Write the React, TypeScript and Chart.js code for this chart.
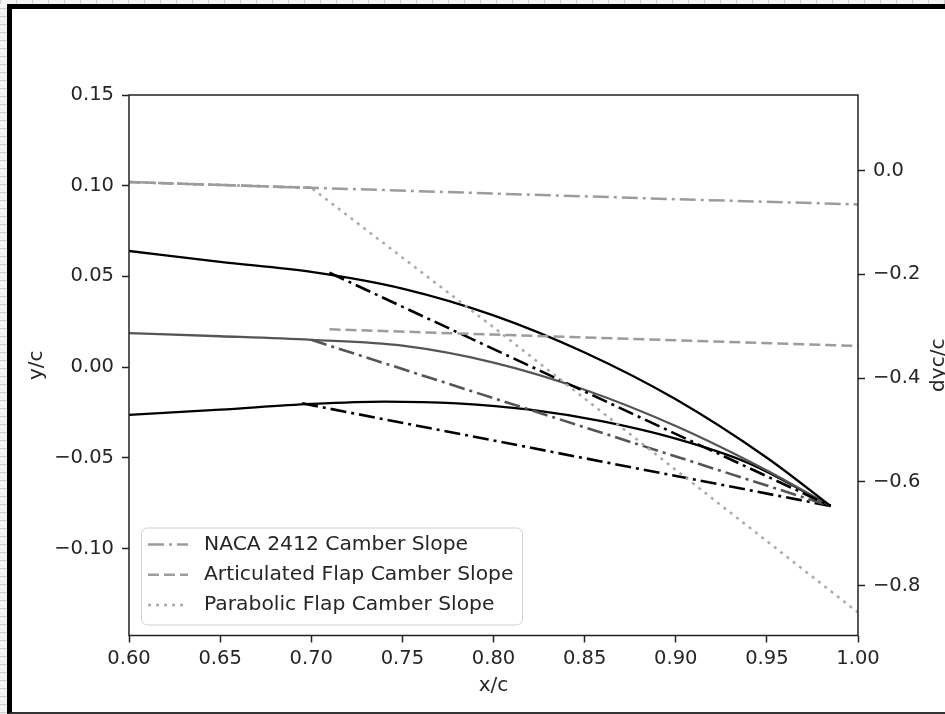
import React, { useEffect, useRef } from 'react';
import { Chart, registerables } from 'chart.js';

Chart.register(...registerables);

// ---------- data ----------
// camber lines (left axis, y/c)
const upperCamberX = [0.6, 0.65, 0.7, 0.75, 0.8, 0.85, 0.9, 0.95, 0.985];
const upperCamberY = [0.064, 0.058, 0.0525, 0.0433, 0.0285, 0.008, -0.0178, -0.05, -0.0766];

const midCamberX = [0.6, 0.65, 0.7, 0.75, 0.8, 0.85, 0.9, 0.95, 0.985];
const midCamberY = [0.0187, 0.017, 0.015, 0.0118, 0.0025, -0.0125, -0.0325, -0.057, -0.0766];

const lowerCamberX = [0.6, 0.65, 0.7, 0.74, 0.78, 0.82, 0.86, 0.9, 0.94, 0.985];
const lowerCamberY = [-0.0264, -0.0235, -0.0203, -0.019, -0.02, -0.0235, -0.03, -0.0395, -0.053, -0.0766];

// articulated flap chords (left axis)
const upperFlapX = [0.71, 0.985];
const upperFlapY = [0.052, -0.0766];
const midFlapX = [0.7, 0.985];
const midFlapY = [0.015, -0.0766];
const lowerFlapX = [0.695, 0.985];
const lowerFlapY = [-0.02, -0.0766];

// camber slopes (right axis, dyc/c)
const nacaSlopeX = [0.6, 0.7, 0.8, 0.9, 1.0];
const nacaSlopeY = [-0.022, -0.033, -0.044, -0.055, -0.065];

const artSlopeX = [0.6, 0.7, 0.705, 0.71, 0.8, 0.9, 1.0];
const artSlopeY = [-0.022, -0.033, null, -0.306, -0.316, -0.327, -0.338];

const paraSlopeX = [0.6, 0.7, 0.8, 0.9, 1.0];
const paraSlopeY = [-0.022, -0.033, -0.302, -0.577, -0.852];

// ticks
const xTicks = [0.6, 0.65, 0.7, 0.75, 0.8, 0.85, 0.9, 0.95, 1.0];
const yTicks = [-0.1, -0.05, 0.0, 0.05, 0.1, 0.15];
const y2Ticks = [-0.8, -0.6, -0.4, -0.2, 0.0];

const legendLabels = [
  'NACA 2412 Camber Slope',
  'Articulated Flap Camber Slope',
  'Parabolic Flap Camber Slope',
];

// ---------- styles ----------
const FONT = '"DejaVu Sans", "Noto Sans", sans-serif';
const TEXT = '#262626';
const DASHDOT = [16, 5, 3, 5];
const DASHED = [11, 5];
const DOTTED = [3, 5];
const SLOPE_GRAY = '#9c9c9c';
const DOT_GRAY = '#ababab';

const fmt = (v: number, d: number) => {
  const s = Math.abs(v) < 1e-9 ? (0).toFixed(d) : v.toFixed(d);
  return s.replace('-', '\u2212');
};

const mk = (xs: number[], ys: (number | null)[], color: string, width: number, dash: number[], axis: string, smooth = false) => ({
  data: xs.map((x, i) => ({ x, y: ys[i] })),
  borderColor: color,
  backgroundColor: color,
  borderWidth: width,
  borderDash: dash,
  borderCapStyle: 'butt',
  pointRadius: 0,
  pointHoverRadius: 0,
  fill: false,
  spanGaps: false,
  yAxisID: axis,
  tension: 0,
  cubicInterpolationMode: smooth ? 'monotone' : 'default',
});

const legendStyles = [
  { color: SLOPE_GRAY, dash: DASHDOT },
  { color: SLOPE_GRAY, dash: DASHED },
  { color: DOT_GRAY, dash: DOTTED },
];

const decorPlugin = {
  id: 'decor',
  afterDraw(chart: any) {
    const { ctx, chartArea } = chart;
    const { left, top, right, bottom } = chartArea;
    ctx.save();
    // axes frame
    ctx.strokeStyle = '#222';
    ctx.lineWidth = 1.5;
    ctx.setLineDash([]);
    ctx.strokeRect(left, top, right - left, bottom - top);

    // legend
    const lx = 141.5, ly = 528, lw = 381, lh = 97, r = 6;
    ctx.beginPath();
    ctx.moveTo(lx + r, ly);
    ctx.lineTo(lx + lw - r, ly);
    ctx.arcTo(lx + lw, ly, lx + lw, ly + r, r);
    ctx.lineTo(lx + lw, ly + lh - r);
    ctx.arcTo(lx + lw, ly + lh, lx + lw - r, ly + lh, r);
    ctx.lineTo(lx + r, ly + lh);
    ctx.arcTo(lx, ly + lh, lx, ly + lh - r, r);
    ctx.lineTo(lx, ly + r);
    ctx.arcTo(lx, ly, lx + r, ly, r);
    ctx.closePath();
    ctx.fillStyle = 'rgba(255,255,255,0.8)';
    ctx.fill();
    ctx.strokeStyle = '#d0d0d0';
    ctx.lineWidth = 1;
    ctx.stroke();

    const rows = [544.5, 574.8, 605];
    legendLabels.forEach((lab, i) => {
      const st = legendStyles[i];
      ctx.beginPath();
      ctx.setLineDash(st.dash);
      ctx.strokeStyle = st.color;
      ctx.lineWidth = 2.5;
      ctx.lineCap = 'butt';
      ctx.moveTo(148, rows[i]);
      ctx.lineTo(188, rows[i]);
      ctx.stroke();
      ctx.setLineDash([]);
      ctx.fillStyle = TEXT;
      ctx.font = `20.3px ${FONT}`;
      ctx.textAlign = 'left';
      ctx.textBaseline = 'middle';
      ctx.fillText(lab, 204, rows[i]);
    });

    // right axis title (reads bottom to top)
    ctx.translate(944, (top + bottom) / 2);
    ctx.rotate(-Math.PI / 2);
    ctx.fillStyle = TEXT;
    ctx.font = `20px ${FONT}`;
    ctx.textAlign = 'center';
    ctx.textBaseline = 'alphabetic';
    ctx.fillText('dyc/c', 0, 0);
    ctx.restore();
  },
};

const tickGrid = {
  display: true,
  drawOnChartArea: false,
  drawTicks: true,
  tickLength: 7,
  tickWidth: 1.5,
  tickColor: '#222',
};

export default function App() {
  const ref = useRef<HTMLCanvasElement>(null);

  useEffect(() => {
    document.body.style.margin = '0';
    const datasets: any[] = [
      mk(nacaSlopeX, nacaSlopeY, SLOPE_GRAY, 2.5, DASHDOT, 'y2'),
      mk(artSlopeX, artSlopeY, SLOPE_GRAY, 2.5, DASHED, 'y2'),
      mk(paraSlopeX, paraSlopeY, DOT_GRAY, 2.5, DOTTED, 'y2'),
      mk(upperCamberX, upperCamberY, '#000000', 2.3, [], 'y', true),
      mk(upperFlapX, upperFlapY, '#000000', 2.6, DASHDOT, 'y'),
      mk(midCamberX, midCamberY, '#555555', 2.3, [], 'y', true),
      mk(midFlapX, midFlapY, '#555555', 2.6, DASHDOT, 'y'),
      mk(lowerCamberX, lowerCamberY, '#000000', 2.3, [], 'y', true),
      mk(lowerFlapX, lowerFlapY, '#000000', 2.6, DASHDOT, 'y'),
    ];

    const chart = new Chart(ref.current as HTMLCanvasElement, {
      type: 'line',
      data: { datasets },
      options: {
        animation: false,
        responsive: false,
        maintainAspectRatio: false,
        events: [],
        layout: { padding: { left: 0, right: 0, top: 95, bottom: 0 } },
        plugins: {
          legend: { display: false },
          tooltip: { enabled: false },
        },
        scales: {
          x: {
            type: 'linear',
            position: 'bottom',
            min: 0.6,
            max: 1.0,
            afterBuildTicks: (s: any) => { s.ticks = xTicks.map((v) => ({ value: v })); },
            afterFit: (s: any) => { s.height = 78.5; },
            ticks: {
              autoSkip: false,
              maxRotation: 0,
              padding: 5,
              color: TEXT,
              font: { family: FONT, size: 19.5 },
              callback: (v: any) => fmt(Number(v), 2),
            },
            grid: tickGrid,
            border: { display: false },
            title: {
              display: true,
              text: 'x/c',
              color: TEXT,
              font: { family: FONT, size: 20 },
              padding: { top: 0, bottom: 16 },
            },
          },
          y: {
            type: 'linear',
            position: 'left',
            min: -0.148,
            max: 0.15,
            afterBuildTicks: (s: any) => { s.ticks = yTicks.map((v) => ({ value: v })); },
            afterFit: (s: any) => { s.width = 129; },
            ticks: {
              padding: 8,
              color: TEXT,
              font: { family: FONT, size: 19.5 },
              callback: (v: any) => fmt(Number(v), 2),
            },
            grid: tickGrid,
            border: { display: false },
            title: {
              display: true,
              text: 'y/c',
              color: TEXT,
              font: { family: FONT, size: 20 },
              padding: { top: 25, bottom: 0 },
            },
          },
          y2: {
            type: 'linear',
            position: 'right',
            min: -0.8965,
            max: 0.146,
            afterBuildTicks: (s: any) => { s.ticks = y2Ticks.map((v) => ({ value: v })); },
            afterFit: (s: any) => { s.width = 87; },
            ticks: {
              padding: 8,
              color: TEXT,
              font: { family: FONT, size: 19.5 },
              callback: (v: any) => fmt(Number(v), 1),
            },
            grid: tickGrid,
            border: { display: false },
          },
        },
      },
      plugins: [decorPlugin],
    } as any);

    return () => chart.destroy();
  }, []);

  return (
    <div style={{ position: 'relative', width: 945, height: 714, overflow: 'hidden', background: '#f3f3f3' }}>
      <div
        style={{
          position: 'absolute', left: 0, top: 0, width: 7, height: 714,
          backgroundImage: 'repeating-linear-gradient(to bottom, #cdcdcd 0px, #cdcdcd 1px, #f3f3f3 1px, #f3f3f3 8px)',
        }}
      />
      <div
        style={{
          position: 'absolute', left: 0, top: 0, width: 945, height: 4,
          backgroundImage: 'repeating-linear-gradient(to right, #cdcdcd 0px, #cdcdcd 1px, #f3f3f3 1px, #f3f3f3 16px)',
        }}
      />
      <div
        style={{
          position: 'absolute', left: 7, top: 4, width: 980, height: 710, boxSizing: 'border-box',
          background: '#ffffff', borderTop: '5px solid #000', borderLeft: '5px solid #000', borderBottom: '2px solid #333',
        }}
      />
      <canvas ref={ref} width={945} height={714} style={{ position: 'absolute', left: 0, top: 0, display: 'block' }} />
    </div>
  );
}
